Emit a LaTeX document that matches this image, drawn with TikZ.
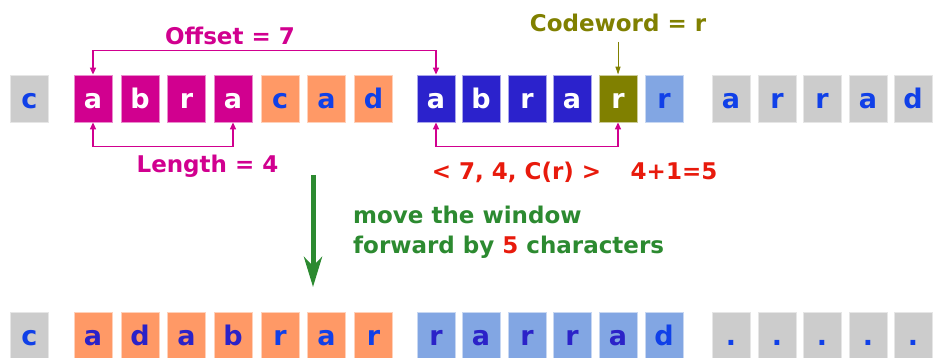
\documentclass[tikz,border=0pt]{standalone}
\usepackage{fontspec}
\setmainfont{DejaVu Sans}
\usetikzlibrary{arrows.meta}
\definecolor{cellgrey}{HTML}{CCCCCC}
\definecolor{cellpink}{HTML}{D1008F}
\definecolor{cellorange}{HTML}{FF9966}
\definecolor{cellblue}{HTML}{2B22CC}
\definecolor{cellolive}{HTML}{808000}
\definecolor{celllight}{HTML}{82A6E3}
\definecolor{charblue}{HTML}{1040E8}
\definecolor{charindigo}{HTML}{2B22C8}
\definecolor{tuplered}{HTML}{E81A0C}
\definecolor{movegreen}{HTML}{2C8A30}

\begin{document}
\begin{tikzpicture}[x=1pt,y=-1pt,
  cell/.style={rectangle,minimum width=38pt,minimum height=47pt,inner sep=0pt,line width=0.8pt,text height=20pt,text depth=0pt,font=\fontsize{27}{27}\selectfont\bfseries},
  greycell/.style={cell,fill=cellgrey,draw=cellgrey!50,text=charblue},
  pinkcell/.style={cell,fill=cellpink,draw=cellpink!45,text=white},
  orangecell/.style={cell,fill=cellorange,draw=cellorange!45,text=charblue},
  bluecell/.style={cell,fill=cellblue,draw=cellblue!40,text=white},
  olivecell/.style={cell,fill=cellolive,draw=cellolive!40,text=white},
  lightcell/.style={cell,fill=celllight,draw=celllight!45,text=charblue},
  tagtext/.style={inner sep=0pt,font=\fontsize{23}{23}\selectfont\bfseries},
  spanline/.style={{Triangle[length=7pt,width=6pt]}-{Triangle[length=7pt,width=6pt]},draw=cellpink,line width=1.3pt},
  codearrow/.style={-{Triangle[length=8pt,width=5pt]},draw=cellolive,line width=1pt},
  movearrow/.style={-{Stealth[length=30pt,width=18pt,inset=9pt]},draw=movegreen,line width=5pt}]
\useasboundingbox (0,0) rectangle (934,358);

% window before the step
\node[greycell] (top1) at (29.5,98.5) {c};
\node[pinkcell] (top2) at (93,98.5) {a};
\node[pinkcell] (top3) at (140,98.5) {b};
\node[pinkcell] (top4) at (186.5,98.5) {r};
\node[pinkcell] (top5) at (233,98.5) {a};
\node[orangecell] (top6) at (280,98.5) {c};
\node[orangecell] (top7) at (326.5,98.5) {a};
\node[orangecell] (top8) at (373.5,98.5) {d};
\node[bluecell] (top9) at (436,98.5) {a};
\node[bluecell] (top10) at (481,98.5) {b};
\node[bluecell] (top11) at (527,98.5) {r};
\node[bluecell] (top12) at (572,98.5) {a};
\node[olivecell] (top13) at (618,98.5) {r};
\node[lightcell] (top14) at (664,98.5) {r};
\node[greycell] (top15) at (731,98.5) {a};
\node[greycell] (top16) at (777,98.5) {r};
\node[greycell] (top17) at (822,98.5) {r};
\node[greycell] (top18) at (868,98.5) {a};
\node[greycell] (top19) at (913,98.5) {d};

% window after the step
\node[greycell] (bot1) at (29.5,335.5) {c};
\node[orangecell,text=charindigo] (bot2) at (93,335.5) {a};
\node[orangecell,text=charindigo] (bot3) at (140,335.5) {d};
\node[orangecell,text=charindigo] (bot4) at (186.5,335.5) {a};
\node[orangecell,text=charindigo] (bot5) at (233,335.5) {b};
\node[orangecell] (bot6) at (280,335.5) {r};
\node[orangecell] (bot7) at (326.5,335.5) {a};
\node[orangecell] (bot8) at (373.5,335.5) {r};
\node[lightcell,text=charindigo] (bot9) at (436,335.5) {r};
\node[lightcell,text=charindigo] (bot10) at (481,335.5) {a};
\node[lightcell,text=charindigo] (bot11) at (527,335.5) {r};
\node[lightcell,text=charindigo] (bot12) at (572,335.5) {r};
\node[lightcell,text=charindigo] (bot13) at (618,335.5) {a};
\node[lightcell] (bot14) at (664,335.5) {d};
\node[greycell] (bot15) at (731,335.5) {.};
\node[greycell] (bot16) at (777,335.5) {.};
\node[greycell] (bot17) at (822,335.5) {.};
\node[greycell] (bot18) at (868,335.5) {.};
\node[greycell] (bot19) at (913,335.5) {.};

% labels
\node[tagtext,text=cellpink,anchor=base] (offset) at (230,45) {Offset = 7};
\node[tagtext,text=cellpink,anchor=base] (length) at (207.5,172.7) {Length = 4};
\node[tagtext,text=cellolive,anchor=base,inner sep=3pt] (codeword) at (618,31.3) {Codeword = r};
\node[tagtext,text=tuplered,anchor=base] (tuple) at (516.5,180) {< 7, 4, C(r) >};
\node[tagtext,text=tuplered,anchor=base] (step) at (674,180) {4+1=5};
\node[tagtext,text=movegreen,anchor=base west] (moveline1) at (353,223) {move the window};
\node[tagtext,text=movegreen,anchor=base west] (moveline2) at (353,253) {forward by \textcolor{tuplered}{5} characters};

\coordinate (movefrom) at (313,175);
\coordinate (moveto) at (313,287);

\draw[spanline] (top2.north) -- ++(0,-24) -| (top9.north);
\draw[spanline] (top2.south) -- ++(0,24) -| (top5.south);
\draw[spanline] (top9.south) -- ++(0,24) -| (top13.south);
\draw[codearrow,shorten <=7pt] (codeword.south) -- (top13.north);
\draw[movearrow] (movefrom) -- (moveto);
\end{tikzpicture}
\end{document}
